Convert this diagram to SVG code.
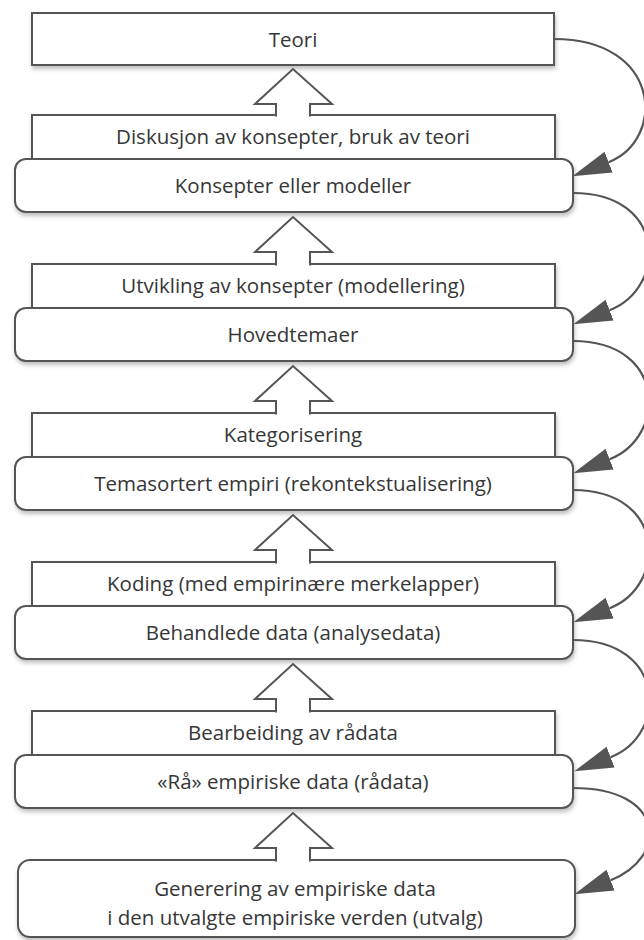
<svg xmlns="http://www.w3.org/2000/svg" width="644" height="940" viewBox="0 0 644 940">
<defs>
<filter id="sh" x="-5%" y="-20%" width="110%" height="150%">
<feDropShadow dx="1" dy="3" stdDeviation="2" flood-color="#000" flood-opacity="0.25"/>
</filter>
<marker id="ah" markerUnits="userSpaceOnUse" markerWidth="40" markerHeight="24" refX="0" refY="10" orient="auto" viewBox="0 0 36 20">
<path d="M0,0 L35,10 L0,20 Z" fill="#555"/>
</marker>
<style>
.box{fill:#fff;stroke:#555;stroke-width:2;filter:url(#sh)}
.t{font-family:"Open Sans","Noto Sans","Liberation Sans",sans-serif;font-size:20.5px;fill:#363636;text-anchor:middle}
.blk{fill:#fff;stroke:#555;stroke-width:2;stroke-linejoin:miter}
.crv{fill:none;stroke:#555;stroke-width:2.2;marker-end:url(#ah)}
</style>
</defs>
<rect width="644" height="940" fill="#fff"/>
<g id="teori"><rect class="box" x="32" y="13" width="522" height="52"/><text class="t" x="293" y="46.5">Teori</text></g>
<g id="diskusjon"><rect class="box" x="32" y="115" width="523" height="60"/><text class="t" x="293" y="144">Diskusjon av konsepter, bruk av teori</text></g>
<g id="konsepter"><rect class="box" x="15" y="159" width="558" height="53" rx="11"/><text class="t" x="293" y="193">Konsepter eller modeller</text></g>
<g id="utvikling"><rect class="box" x="32" y="264" width="523" height="60"/><text class="t" x="293" y="293">Utvikling av konsepter (modellering)</text></g>
<g id="hovedtemaer"><rect class="box" x="15" y="308" width="558" height="53" rx="11"/><text class="t" x="293" y="342">Hovedtemaer</text></g>
<g id="kategorisering"><rect class="box" x="32" y="413" width="523" height="60"/><text class="t" x="293" y="442">Kategorisering</text></g>
<g id="temasortert"><rect class="box" x="15" y="457" width="558" height="53" rx="11"/><text class="t" x="293" y="491">Temasortert empiri (rekontekstualisering)</text></g>
<g id="koding"><rect class="box" x="32" y="562" width="523" height="60"/><text class="t" x="293" y="591">Koding (med empirinære merkelapper)</text></g>
<g id="behandlede"><rect class="box" x="15" y="606" width="558" height="53" rx="11"/><text class="t" x="293" y="640">Behandlede data (analysedata)</text></g>
<g id="bearbeiding"><rect class="box" x="32" y="711" width="523" height="60"/><text class="t" x="293" y="740">Bearbeiding av rådata</text></g>
<g id="raa"><rect class="box" x="15" y="755" width="558" height="53" rx="11"/><text class="t" x="293" y="789">«Rå» empiriske data (rådata)</text></g>
<g id="generering"><rect class="box" x="18" y="860" width="557" height="77" rx="12"/><text class="t" x="295" y="895.5">Generering av empiriske data</text><text class="t" x="295" y="924.5">i den utvalgte empiriske verden (utvalg)</text></g>
<g id="connectors">
<path class="blk" d="M276,116.5 V104 H255 L293,69 L332,104 H310 V116.5"/>
<path class="blk" d="M276,265.5 V252 H255 L293,217 L332,252 H310 V265.5"/>
<path class="blk" d="M276,414.5 V401 H255 L293,366 L332,401 H310 V414.5"/>
<path class="blk" d="M276,563.5 V550 H255 L293,515 L332,550 H310 V563.5"/>
<path class="blk" d="M276,712.5 V699 H255 L293,664 L332,699 H310 V712.5"/>
<path class="blk" d="M276,861.5 V848 H255 L293,813 L332,848 H310 V861.5"/>
<path class="crv" d="M554,39 C662,39 666,140 608.6,162.2"/>
<path class="crv" d="M573,193 C667,193 667,288 609.6,310.2"/>
<path class="crv" d="M573,341 C667,341 667,437 609.6,459.2"/>
<path class="crv" d="M573,490 C667,490 667,586 609.6,608.2"/>
<path class="crv" d="M573,640 C667,640 668,735 610.6,757.2"/>
<path class="crv" d="M573,788 C667,788 668,858 610.6,880.2"/>
</g>
</svg>
